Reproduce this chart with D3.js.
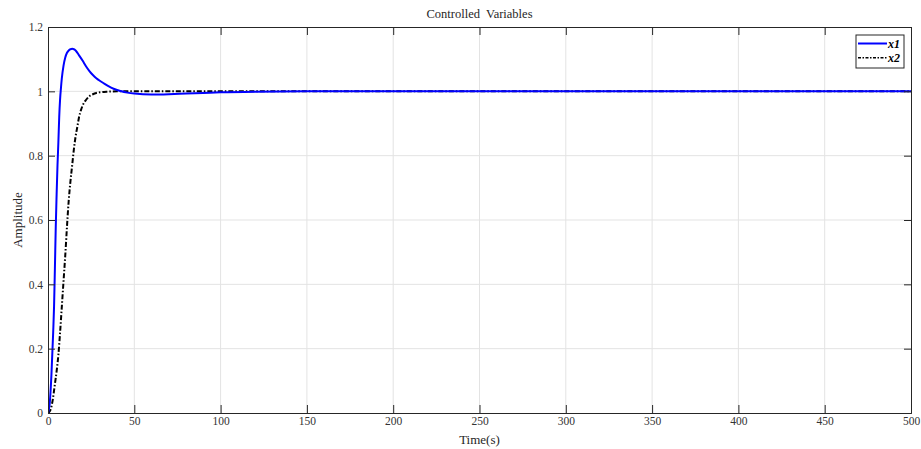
<!DOCTYPE html>
<html><head><meta charset="utf-8">
<script src="https://cdn.jsdelivr.net/npm/d3@7"></script>
<style>body{margin:0;background:#fff}svg{display:block}svg text{font-family:"Liberation Serif","Times New Roman",serif !important;fill:#262626}</style>
</head><body><svg id="c" width="921" height="449"></svg>
<script>
const xTicks=[0,50,100,150,200,250,300,350,400,450,500];
const yTicks=[0,0.2,0.4,0.6,0.8,1,1.2];
const yTickLabels=["0","0.2","0.4","0.6","0.8","1","1.2"];
const x1T=[0,1,2,3,3.5,4,4.5,5,5.5,6,6.5,7,7.5,8,9,10,11,12,13,14,15,16,18,20,22,24,26,28,30,32,35,38,42,46,50,60,70,80,90,100,120,150,200,300,400,500];
const x1V=[0,0.03,0.12,0.25,0.33,0.45,0.58,0.68,0.77,0.84,0.92,0.975,1.01,1.04,1.08,1.105,1.12,1.127,1.131,1.132,1.131,1.127,1.112,1.096,1.078,1.063,1.051,1.041,1.033,1.026,1.016,1.008,1.001,0.996,0.993,0.990,0.991,0.993,0.995,0.997,0.999,1.0,1.0,1.0,1.0,1.0];
const x2T=[0,1,2,3,4,5,6,7,8,9,10,11,12,13,14,15,16,17,18,19,20,22,24,26,28,30,35,40,60,100,200,300,400,500];
const x2V=[0,0.005,0.02,0.05,0.09,0.13,0.18,0.25,0.33,0.41,0.49,0.58,0.66,0.72,0.77,0.82,0.86,0.89,0.92,0.94,0.955,0.973,0.985,0.991,0.995,0.997,0.999,1.0,1.0,1.0,1.0,1.0,1.0,1.0];
const title="Controlled\u00a0 Variables", xLabel="Time(s)", yLabel="Amplitude";
const seriesNames=["x1","x2"];

const L=48,R=911,T=27,B=413;
const svg=d3.select("#c");
const x=d3.scaleLinear().domain([0,500]).range([L,R]);
const y=d3.scaleLinear().domain([0,1.2]).range([B,T]);
const g=svg.append("g");
g.selectAll(".gx").data(xTicks.slice(1,-1)).enter().append("line")
 .attr("x1",d=>x(d)).attr("x2",d=>x(d)).attr("y1",T).attr("y2",B).attr("stroke","#e3e3e3").attr("stroke-width",1);
g.selectAll(".gy").data(yTicks.slice(1,-1)).enter().append("line")
 .attr("y1",d=>y(d)).attr("y2",d=>y(d)).attr("x1",L).attr("x2",R).attr("stroke","#e3e3e3").attr("stroke-width",1);
const ln=d3.line().x(d=>x(d[0])).y(d=>y(d[1])).curve(d3.curveMonotoneX);
svg.append("clipPath").attr("id","cp").append("rect").attr("x",L).attr("y",T-5).attr("width",R-L).attr("height",B-T+5);
g.append("path").datum(x2T.map((t,i)=>[t,x2V[i]])).attr("d",ln).attr("fill","none").attr("stroke","#000").attr("stroke-width",2).attr("stroke-dasharray","5,2,1.5,2").attr("clip-path","url(#cp)");
g.append("path").datum(x1T.map((t,i)=>[t,x1V[i]])).attr("d",ln).attr("fill","none").attr("stroke","#0000ff").attr("stroke-width",2).attr("clip-path","url(#cp)");
const ax=d3.axisBottom(x).tickValues(xTicks).tickSize(-8).tickFormat(d3.format("d"));
const axg=svg.append("g").attr("transform",`translate(0,${B})`).call(ax);
axg.selectAll("text").attr("dy","0.4em").attr("y",7);
svg.append("g").attr("transform",`translate(0,${T})`).call(d3.axisTop(x).tickValues(xTicks).tickSize(-8).tickFormat(""));
const ay=d3.axisLeft(y).tickValues(yTicks).tickSize(-7).tickFormat((d,i)=>yTickLabels[i]);
const ayg=svg.append("g").attr("transform",`translate(${L},0)`).call(ay);
ayg.selectAll("text").attr("x",-5);
svg.append("g").attr("transform",`translate(${R},0)`).call(d3.axisRight(y).tickValues(yTicks).tickSize(-7).tickFormat(""));
svg.selectAll(".domain").attr("stroke","#262626").attr("stroke-width",1);
svg.selectAll(".tick line").attr("stroke","#262626");
svg.selectAll(".tick text").attr("font-size",11.5).style("fill","#333");
svg.append("text").attr("x",(L+R)/2).attr("y",18).attr("text-anchor","middle").attr("font-size",12.5).text(title);
svg.append("text").attr("x",(L+R)/2).attr("y",444).attr("text-anchor","middle").attr("font-size",13).text(xLabel);
svg.append("text").attr("transform",`translate(22,${(T+B)/2}) rotate(-90)`).attr("text-anchor","middle").attr("font-size",13).text(yLabel);
const lg=svg.append("g");
lg.append("rect").attr("x",856).attr("y",35).attr("width",48).attr("height",33).attr("fill","#fff").attr("stroke","#262626").attr("stroke-width",1);
const cols=["#0000ff","#000"], dash=[null,"3,1.5,1.5,1.5"];
seriesNames.forEach((n,i)=>{
  const yy=43.5+i*14.3;
  lg.append("line").attr("x1",858).attr("x2",887).attr("y1",yy).attr("y2",yy).attr("stroke",cols[i]).attr("stroke-width",i==0?2:1.5).attr("stroke-dasharray",dash[i]);
  lg.append("text").attr("x",888).attr("y",yy+4).attr("font-size",12).attr("font-weight","bold").attr("font-style","italic").style("fill","#000").text(n);
});
</script></body></html>
